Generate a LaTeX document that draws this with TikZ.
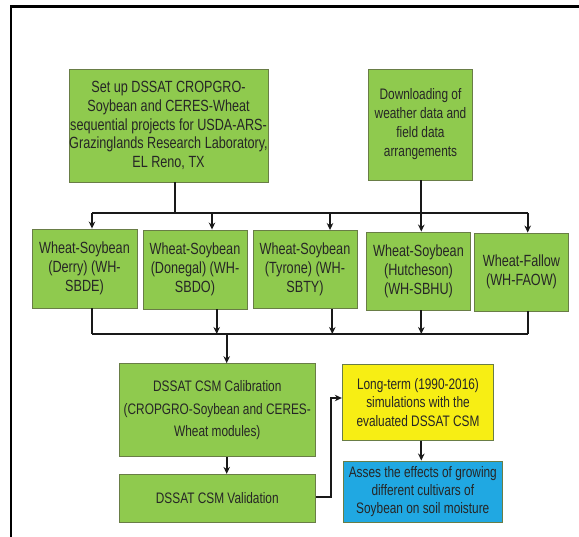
\documentclass[tikz,border=0pt]{standalone}
\usepackage{fontspec}
\setmainfont{Liberation Sans}[FakeStretch=0.78]
\usetikzlibrary{arrows.meta}
\definecolor{boxgreen}{RGB}{143,202,78}
\definecolor{boxline}{RGB}{105,125,70}
\definecolor{boxyellow}{RGB}{247,238,20}
\definecolor{boxblue}{RGB}{32,168,226}
\definecolor{txt}{RGB}{38,38,38}
\definecolor{wire}{RGB}{25,25,25}
\tikzset{
  box/.style={draw=boxline, line width=0.9pt, fill=boxgreen, align=center, inner sep=0pt,
    text=txt, font=\fontsize{15.2}{19}\selectfont},
  bigtext/.style={font=\fontsize{16.2}{19}\selectfont},
  ybox/.style={box, fill=boxyellow},
  bbox/.style={box, fill=boxblue},
  wireline/.style={draw=wire, line width=1.8pt},
  arr/.style={wireline, -{Stealth[length=7pt,width=6.5pt]}},
  frameline/.style={draw=black, line width=2.6pt}
}
\begin{document}
\begin{tikzpicture}[x=1pt,y=-1pt]
\useasboundingbox (0,0) rectangle (579,537);
\coordinate (fTL) at (11,6.7);
\coordinate (fTR) at (579,6.7);
\coordinate (fBL) at (11,537);
\draw[frameline] (fTR) -- (fTL) -- (fBL);

\node[box, bigtext, font=\fontsize{16.2}{18.8}\selectfont, minimum width=199pt, minimum height=113pt] (s1) at (168.5,125.5)
  {Set up DSSAT CROPGRO-\\Soybean and CERES-Wheat\\sequential projects for USDA-ARS-\\Grazinglands Research Laboratory,\\EL Reno, TX};
\node[box, minimum width=104.4pt, minimum height=111pt] (s2) at (420.5,124.5)
  {Downloading of\\weather data and\\field data\\arrangements};

\node[box, bigtext, minimum width=105pt, minimum height=79pt] (A) at (84.5,268.5)
  {Wheat-Soybean\\(Derry) (WH-\\SBDE)};
\node[box, bigtext, minimum width=104pt, minimum height=79pt] (B) at (195,269.5)
  {Wheat-Soybean\\(Donegal) (WH-\\SBDO)};
\node[box, bigtext, minimum width=104pt, minimum height=78pt] (C) at (305,269.5)
  {Wheat-Soybean\\(Tyrone) (WH-\\SBTY)};
\node[box, bigtext, minimum width=104.4pt, minimum height=78pt] (D) at (418.5,271)
  {Wheat-Soybean\\(Hutcheson)\\(WH-SBHU)};
\node[box, bigtext, minimum width=93.6pt, minimum height=78pt] (E) at (521.5,272)
  {Wheat-Fallow\\(WH-FAOW)};

\node[box, minimum width=196.7pt, minimum height=93.3pt, font=\fontsize{15.2}{22.7}\selectfont] (cal) at (217.3,410.3)
  {DSSAT CSM Calibration\\(CROPGRO-Soybean and CERES-\\Wheat modules)};
\node[box, minimum width=196.7pt, minimum height=47.7pt] (val) at (217.3,498.2)
  {DSSAT CSM Validation};
\node[ybox, minimum width=151.4pt, minimum height=75.6pt, font=\fontsize{15.2}{18.3}\selectfont] (yel) at (418,402.5)
  {Long-term (1990-2016)\\simulations with the\\evaluated DSSAT CSM};
\node[bbox, minimum width=159pt, minimum height=61pt, font=\fontsize{15.2}{18.3}\selectfont] (blu) at (422.8,491.5)
  {Asses the effects of growing\\different cultivars of\\Soybean on soil moisture};

% upper bus
\coordinate (u1) at (92,213);
\coordinate (u2) at (212,213);
\coordinate (u3) at (330,213);
\coordinate (u4) at (421.3,213);
\coordinate (u5) at (527.7,213);
\coordinate (us1) at (175,213);
\draw[wireline] (s1.south -| us1) -- (us1);
\draw[wireline] (u1) -- (u5);
\draw[arr] (u1) -- (u1 |- A.north);
\draw[arr] (u2) -- (u2 |- B.north);
\draw[arr] (u3) -- (u3 |- C.north);
\draw[arr] (s2.south -| u4) -- (u4 |- D.north);
\draw[arr] (u5) -- (u5 |- E.north);

% lower bus
\coordinate (l1) at (92,334);
\coordinate (l2) at (216.7,334);
\coordinate (l3) at (332.3,334);
\coordinate (l4) at (421.3,334);
\coordinate (l5) at (527.7,334);
\coordinate (lc) at (226.7,334);
\draw[wireline] (A.south -| l1) -- (l1);
\draw[wireline] (E.south -| l5) -- (l5);
\draw[wireline] (l1) -- (l5);
\draw[arr] (B.south -| l2) -- (l2);
\draw[arr] (C.south -| l3) -- (l3);
\draw[arr] (D.south -| l4) -- (l4);
\draw[arr] (lc) -- (lc |- cal.north);
\draw[arr] (cal.south -| lc) -- (lc |- val.north);

% validation to long-term
\coordinate (vr) at (315.7,497);
\coordinate (vk1) at (331.3,497);
\coordinate (vk2) at (331.3,398);
\draw[arr] (val.east |- vr) -- (vk1) -- (vk2) -- (vk2 -| yel.west);
\coordinate (yb) at (421.3,440);
\draw[arr] (yel.south -| yb) -- (yb |- blu.north);
\end{tikzpicture}
\end{document}
